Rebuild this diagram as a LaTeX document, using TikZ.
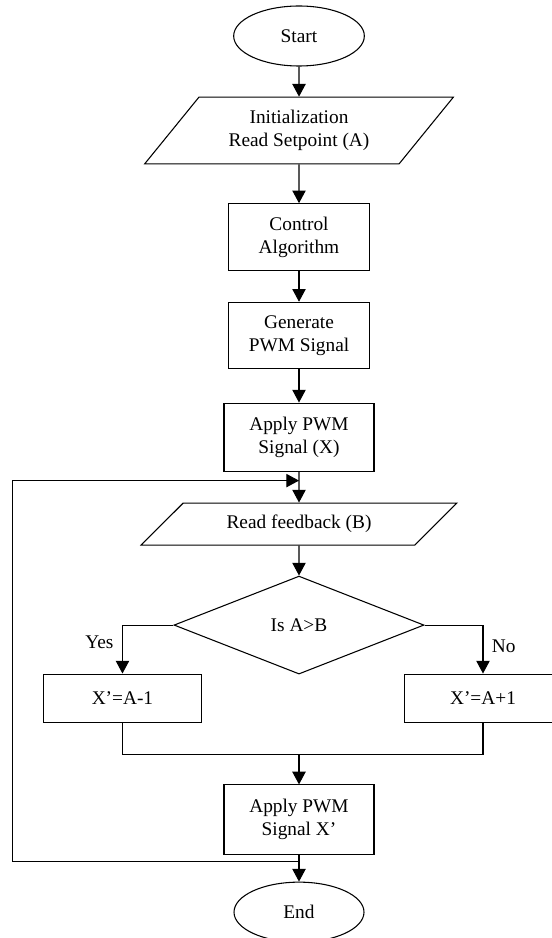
\documentclass[tikz,border=0pt]{standalone}
\usepackage{fontspec}
\setmainfont{Liberation Serif}
\usepackage{tikz}
\usetikzlibrary{shapes.geometric, arrows.meta, positioning}

\begin{document}
\begin{tikzpicture}[on grid, node distance=75pt,
   line width=0.8pt,
   font=\fontsize{14.5}{17.5}\selectfont,
   >={Triangle[width=10pt,length=9.5pt]},
   term/.style={draw, ellipse, minimum width=98pt, minimum height=45pt, inner sep=0pt},
   io/.style={draw, trapezium, trapezium left angle=#1, trapezium right angle=180-#1,
              trapezium stretches=true, align=center, inner sep=0pt},
   proc/.style={draw, rectangle, align=center, inner sep=0pt},
   choice/.style={draw, diamond, minimum width=187.5pt, minimum height=73.5pt, inner sep=0pt}]
   \useasboundingbox (0,0) rectangle (414pt,-703.5pt);

   % 定义流程节点
   \node[term] (start) at (224.25pt,-27pt) {Start};
   \node[io=47, minimum width=232pt, minimum height=50pt] (init) [below=70.9pt of start]
        {Initialization\\Read Setpoint (A)};
   \node[proc, minimum width=106pt, minimum height=50pt] (ctrl) [below=79.9pt of init]
        {Control\\Algorithm};
   \node[proc, minimum width=106pt, minimum height=50pt] (gen) [below=73.9pt of ctrl]
        {Generate\\PWM Signal};
   \node[proc, minimum width=112.5pt, minimum height=51pt] (apply) [below=76.1pt of gen]
        {Apply PWM\\Signal (X)};
   \node[io=34, minimum width=237pt, minimum height=31.5pt] (fb) [below=65.25pt of apply]
        {Read feedback (B)};
   \node[choice] (dec) [below=75.75pt of fb] {Is A>B\\[-8pt]\mbox{}};
   \node[proc, minimum width=118pt, minimum height=36pt] (minus) [below left=54.75pt and 132.4pt of dec]
        {X'=A-1};
   \node[proc, minimum width=118pt, minimum height=36pt] (plus) [below right=54.75pt and 138pt of dec]
        {X'=A+1};
   \node[proc, minimum width=112.5pt, minimum height=52pt] (applyx) [below=145.9pt of dec]
        {Apply PWM\\Signal X'};
   \node[term, minimum width=97.5pt] (stop) [below=69.4pt of applyx] {End};

   % 辅助坐标
   \coordinate (edge) at (9.5pt,0);
   \coordinate (back) at ([yshift=-5.25pt]applyx.south);
   \coordinate (join) at ([yshift=-6.75pt]apply.south);
   \path (minus.south) ++(0,-23.6pt) coordinate (mergeL);
   \coordinate (merge) at (mergeL -| dec);

   % 主干箭头
   \draw[->] (start) -- (init);
   \draw[->] (init) -- (ctrl);
   \draw[->] (ctrl) -- (gen);
   \draw[->] (gen) -- (apply);
   \draw[->] (apply) -- (fb);
   \draw[->] (fb) -- (dec);

   % 判断分支
   \draw[->] (dec.west) -| node[pos=0.68, left=3pt] {Yes} (minus.north);
   \draw[->] (dec.east) -| node[pos=0.72, right=3pt] {No} (plus.north);
   \draw (minus.south) -- (mergeL) -| (plus.south);
   \draw[->] (merge) -- (applyx);
   \draw[->] (applyx) -- (stop);

   % 反馈回路
   \draw[->] (back) -- (back -| edge) -- (join -| edge) -- (join);
\end{tikzpicture}
\end{document}
